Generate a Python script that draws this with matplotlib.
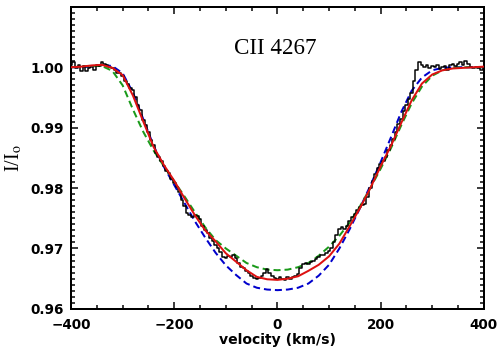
import numpy as np
import matplotlib
matplotlib.use("Agg")
import matplotlib.pyplot as plt
from matplotlib.ticker import MultipleLocator

# ---------------- data ----------------
# observed profile, velocity grid -400..400 km/s step 5
obs_v = np.arange(-400, 401, 5)
obs_flux = [
    1.0004, 1.0008, 0.9998, 1.0003, 0.9994, 1.0002, 0.9993, 0.9999, 1.0001, 0.9996,
    1.0003, 1.0002, 1.0009, 1.0005, 1.0003, 1.0001, 0.9999, 0.9996, 0.9991, 0.9990,
    0.9986, 0.9978, 0.9973, 0.9966, 0.9962, 0.9950, 0.9938, 0.9929, 0.9912, 0.9905,
    0.9893, 0.9880, 0.9872, 0.9858, 0.9852, 0.9845, 0.9836, 0.9828, 0.9825, 0.9815,
    0.9808, 0.9802, 0.9793, 0.9780, 0.9770, 0.9758, 0.9755, 0.9752, 0.9756, 0.9754,
    0.9748, 0.9738, 0.9730, 0.9726, 0.9718, 0.9712, 0.9706, 0.9700, 0.9694, 0.9686,
    0.9684, 0.9688, 0.9686, 0.9690, 0.9684, 0.9676, 0.9670, 0.9668, 0.9663, 0.9659,
    0.9654, 0.9651, 0.9650, 0.9651, 0.9654, 0.9660, 0.9666, 0.9660, 0.9654, 0.9651,
    0.9649, 0.9653, 0.9650, 0.9648, 0.9652, 0.9650, 0.9653, 0.9655, 0.9658, 0.9668,
    0.9674, 0.9676, 0.9675, 0.9678, 0.9680, 0.9682, 0.9686, 0.9690, 0.9689, 0.9693,
    0.9696, 0.9701, 0.9710, 0.9722, 0.9732, 0.9735, 0.9733, 0.9738, 0.9745, 0.9752,
    0.9757, 0.9763, 0.9769, 0.9772, 0.9774, 0.9785, 0.9800, 0.9812, 0.9823, 0.9834,
    0.9840, 0.9845, 0.9852, 0.9863, 0.9872, 0.9881, 0.9893, 0.9906, 0.9915, 0.9928,
    0.9938, 0.9947, 0.9958, 0.9978, 0.9995, 1.0008, 1.0004, 1.0000, 1.0003, 0.9999,
    1.0002, 1.0000, 1.0004, 0.9997, 1.0001, 1.0002, 0.9996, 1.0003, 1.0005, 1.0002,
    1.0006, 1.0008, 1.0004, 1.0011, 1.0005, 1.0001, 0.9999, 1.0001, 0.9998, 0.9996,
    0.9999,
]

# model grid -400..400 step 20
model_v = np.arange(-400, 401, 20)
model_red = [
    1.0000, 1.0001, 1.0003, 1.0004, 0.9999, 0.9987, 0.9953, 0.9910, 0.9868, 0.9838,
    0.9812, 0.9783, 0.9755, 0.9730, 0.9712, 0.9692, 0.9678, 0.9664, 0.9653, 0.9649,
    0.9648,
    0.9650, 0.9654, 0.9663, 0.9673, 0.9687, 0.9708, 0.9737, 0.9767, 0.9800, 0.9836,
    0.9870, 0.9908, 0.9945, 0.9973, 0.9988, 0.9995, 0.9998, 0.9999, 1.0000, 1.0001,
]
model_blue = [
    1.0000, 1.0000, 1.0001, 1.0004, 1.0002, 0.9990, 0.9958, 0.9914, 0.9870, 0.9835,
    0.9805, 0.9775, 0.9745, 0.9718, 0.9693, 0.9672, 0.9656, 0.9642, 0.9635, 0.9632,
    0.9631,
    0.9632, 0.9635, 0.9642, 0.9655, 0.9673, 0.9700, 0.9732, 0.9767, 0.9804, 0.9843,
    0.9884, 0.9926, 0.9961, 0.9983, 0.9995, 0.9999, 1.0000, 1.0000, 1.0000, 1.0000,
]
model_green = [
    1.0000, 1.0001, 1.0002, 1.0002, 0.9994, 0.9970, 0.9930, 0.9893, 0.9862, 0.9836,
    0.9811, 0.9786, 0.9760, 0.9735, 0.9714, 0.9700, 0.9688, 0.9676, 0.9669, 0.9665,
    0.9664,
    0.9665, 0.9669, 0.9676, 0.9688, 0.9703, 0.9721, 0.9743, 0.9770, 0.9800, 0.9832,
    0.9866, 0.9904, 0.9940, 0.9968, 0.9986, 0.9995, 0.9999, 1.0000, 1.0000, 1.0000,
]

title_text = "CII 4267"
x_label = "velocity (km/s)"
y_label = r"I/I$_{\rm o}$"

# ---------------- plot ----------------
plt.rcParams["mathtext.fontset"] = "stix"
fig = plt.figure(figsize=(7.0, 5.0), dpi=72)
ax = fig.add_axes([0.141, 0.142, 0.819, 0.839])

dash = (0, (3.5, 2.0))
ax.plot(model_v, model_blue, color="#0000cc", lw=2.0, ls=dash, zorder=2)
ax.plot(model_v, model_green, color="#1a9a1a", lw=2.0, ls=dash, zorder=2)
ax.plot(obs_v, obs_flux, color="black", lw=1.5, drawstyle="steps-mid", zorder=3)
ax.plot(model_v, model_red, color="#dd1111", lw=2.0, zorder=4)

ax.set_xlim(-400, 400)
ax.set_ylim(0.96, 1.01)
ax.xaxis.set_major_locator(MultipleLocator(200))
ax.xaxis.set_minor_locator(MultipleLocator(50))
ax.yaxis.set_minor_locator(MultipleLocator(0.001))
ax.set_yticks([0.96, 0.97, 0.98, 0.99, 1.00])
ax.set_yticklabels(["0.96", "0.97", "0.98", "0.99", "1.00"])

ax.tick_params(which="both", direction="in", top=True, right=True, width=1.5,
               labelsize=13.5, colors="black")
ax.tick_params(which="major", length=7)
ax.tick_params(axis="x", which="major", pad=9)
ax.tick_params(axis="y", which="major", pad=7)
ax.tick_params(which="minor", length=4)
for lbl in ax.get_xticklabels() + ax.get_yticklabels():
    lbl.set_fontweight("bold")
for sp in ax.spines.values():
    sp.set_linewidth(2.0)

ax.set_xlabel(x_label, fontsize=14, fontweight="bold", labelpad=1)
ax.set_ylabel(y_label, fontsize=20, family="Liberation Serif", labelpad=6)
ax.text(0.495, 0.862, title_text, transform=ax.transAxes, ha="center", va="center",
        fontsize=23, family="Liberation Serif")

fig.savefig("out.png", dpi=72)
